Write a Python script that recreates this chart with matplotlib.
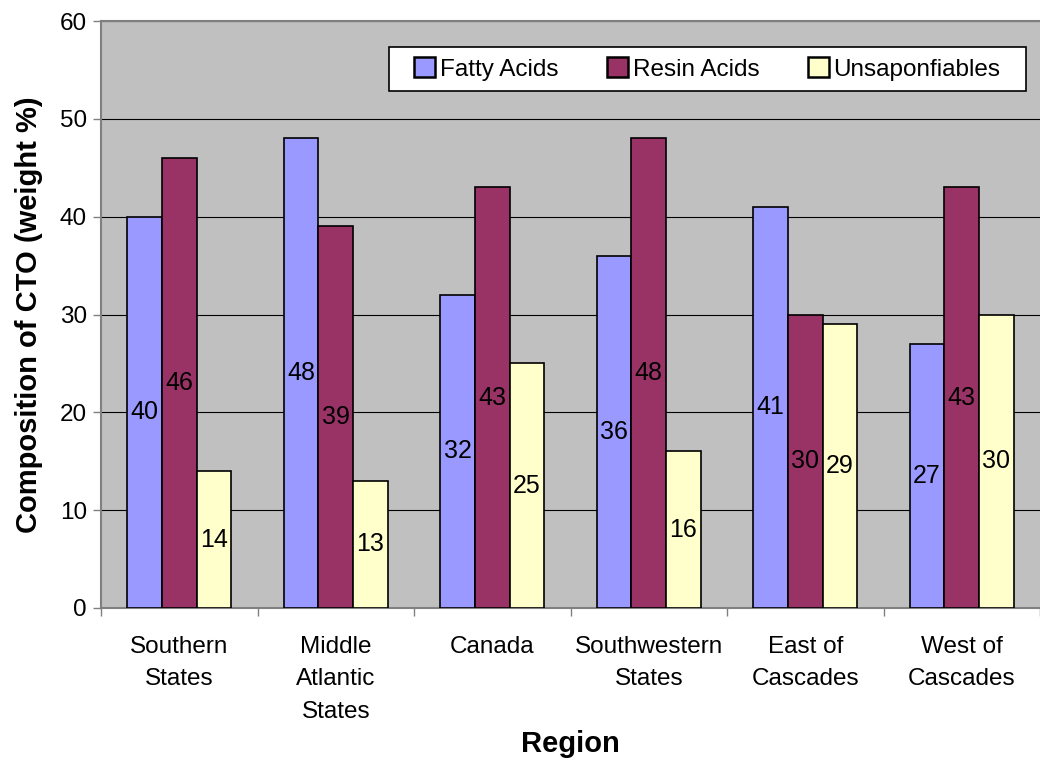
import numpy as np
import matplotlib
matplotlib.use('Agg')
import matplotlib.pyplot as plt
from matplotlib.patches import Rectangle

plt.rcParams['font.family'] = ['Liberation Sans', 'DejaVu Sans']

regions = ['Southern\nStates', 'Middle\nAtlantic\nStates', 'Canada',
           'Southwestern\nStates', 'East of\nCascades', 'West of\nCascades']
fatty_acids = [40, 48, 32, 36, 41, 27]
resin_acids = [46, 39, 43, 48, 30, 43]
unsaponfiables = [14, 13, 25, 16, 29, 30]

series = [('Fatty Acids', fatty_acids, '#9999FF'),
          ('Resin Acids', resin_acids, '#993366'),
          ('Unsaponfiables', unsaponfiables, '#FFFFCC')]

fig = plt.figure(figsize=(10.4, 7.59), dpi=100)
ax = fig.add_axes([101/1040, 1 - 608/759, 1 - 101/1040, (608 - 21)/759])
ax.set_facecolor('#C0C0C0')

x = np.arange(len(regions))
w = 0.222
for i, (name, vals, col) in enumerate(series):
    bars = ax.bar(x + (i - 1)*w, vals, w, color=col, edgecolor='black',
                  linewidth=1.2, label=name, zorder=3)
    for b, v in zip(bars, vals):
        ax.text(b.get_x() + b.get_width()/2, v/2, str(v), ha='center',
                va='center', fontsize=18, zorder=4)

ax.set_ylim(0, 60)
ax.set_yticks(range(0, 61, 10))
ax.yaxis.grid(True, color='black', linewidth=0.8, zorder=0)
ax.set_xlim(-0.5, -0.5 + 939/158)

# category boundaries get the tick marks, centers get the names
ax.set_xticks(np.arange(len(regions) + 1) - 0.5)
ax.set_xticklabels([])
ax.set_xticks(x, minor=True)
ax.set_xticklabels(regions, minor=True, fontsize=17.5, linespacing=1.63)
ax.tick_params(axis='x', which='minor', length=0, pad=20)
ax.tick_params(axis='x', which='major', length=6, width=1, color='#808080')
ax.tick_params(axis='y', length=6, width=1, color='#808080', labelsize=17.5, pad=4)

for s in ['left', 'bottom', 'top']:
    ax.spines[s].set_color('#808080')
    ax.spines[s].set_linewidth(1.5)
ax.spines['right'].set_visible(False)

ax.set_ylabel('Composition of CTO (weight %)', fontsize=21, fontweight='bold', labelpad=12)
ax.set_xlabel('Region', fontsize=21, fontweight='bold', labelpad=5)

# legend box drawn separately so it can be wider than its contents
lx0, lx1 = 0.3067, 0.985
ly0, ly1 = 0.8807, 0.9557
ax.add_patch(Rectangle((lx0, ly0), lx1 - lx0, ly1 - ly0, transform=ax.transAxes,
                       facecolor='white', edgecolor='black', linewidth=1.2, zorder=5))
leg = ax.legend(loc='center', bbox_to_anchor=((lx0 + lx1)/2, (ly0 + ly1)/2),
                borderaxespad=0, ncol=3, fontsize=17.5, frameon=False,
                handlelength=0.85, handleheight=0.85, handletextpad=0.2,
                columnspacing=2.0, borderpad=0)
leg.set_zorder(6)
for h in leg.legend_handles:
    h.set_linewidth(1.8)

fig.savefig('out.png', dpi=100)
